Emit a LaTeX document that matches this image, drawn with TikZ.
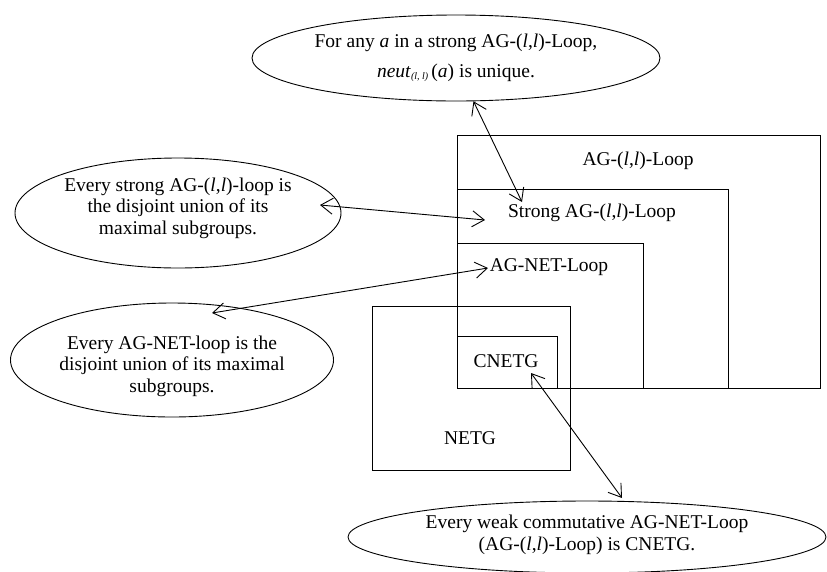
\documentclass[tikz,border=0pt]{standalone}
\usepackage{fontspec}
\setmainfont{Liberation Serif}
\usetikzlibrary{shapes.geometric,arrows.meta}
\begin{document}
\begin{tikzpicture}[x=1pt,y=-1pt,
  every node/.style={font=\fontsize{19.5}{21.5}\selectfont},
  ell/.style={draw, ellipse, line width=0.9pt, inner sep=0pt},
  txt/.style={align=center, inner sep=2pt},
  box/.style={draw, line width=0.9pt, inner sep=0pt, anchor=north west},
  conn/.style={line width=0.9pt, {Straight Barb[length=12pt,width=16pt,line width=0.9pt]}-{Straight Barb[length=12pt,width=16pt,line width=0.9pt]}}
]
\useasboundingbox (0,0) rectangle (827,571);
% boxes
\node[box, minimum width=363pt, minimum height=253pt] (b1) at (457,135) {};
\node[box, minimum width=271pt, minimum height=199pt] (b2) at (457,189) {};
\node[box, minimum width=186pt, minimum height=145pt] (b3) at (457,243) {};
\node[box, minimum width=100pt, minimum height=52pt] (b4) at (457,336) {};
\node[box, minimum width=198pt, minimum height=164pt] (b5) at (372,306) {};
% box labels
\node[txt] (l1) at (638,161) {AG-(\textit{l},\textit{l})-Loop};
\node[txt] (l2) at (592,213) {Strong AG-(\textit{l},\textit{l})-Loop};
\node[txt] (l3) at (549,267) {AG-NET-Loop};
\node[txt] (l4) at (506,361) {CNETG};
\node[txt] (l5) at (470,438) {NETG};
% ellipses
\node[ell, minimum width=408pt, minimum height=86pt] (e1) at (456,58) {};
\node[txt] (t1) at (456,58) {For any \textit{a} in a strong AG-(\textit{l},\textit{l})-Loop,\\[8pt]
  \textit{neut}{\fontsize{10}{10}\selectfont\raisebox{-2pt}{\textit{(l, l)}}}\,(\textit{a}) is unique.};
\node[ell, minimum width=326pt, minimum height=110pt] (e2) at (178,213) {};
\node[txt] (t2) at (178,208) {Every strong AG-(\textit{l},\textit{l})-loop is\\the disjoint union of its\\maximal subgroups.};
\node[ell, minimum width=323pt, minimum height=114pt] (e3) at (172,360) {};
\node[txt] (t3) at (172,366) {Every AG-NET-loop is the\\disjoint union of its maximal\\subgroups.};
\node[ell, minimum width=478pt, minimum height=72pt] (e4) at (587,537) {};
\node[txt] (t4) at (587,535) {Every weak commutative AG-NET-Loop\\(AG-(\textit{l},\textit{l})-Loop) is CNETG.};
% connector ends
\coordinate (c1) at (522,202);
\coordinate (c2a) at (320,205);
\coordinate (c2b) at (485,220);
\coordinate (c3a) at (212,313);
\coordinate (c3b) at (488,268);
\coordinate (c4a) at (531,373);
\coordinate (c4b) at (622,498);
% connectors
\draw[conn] (e1.-68) -- (c1);
\draw[conn] (c2a) -- (c2b);
\draw[conn] (c3a) -- (c3b);
\draw[conn] (c4a) -- (c4b);
\end{tikzpicture}
\end{document}
